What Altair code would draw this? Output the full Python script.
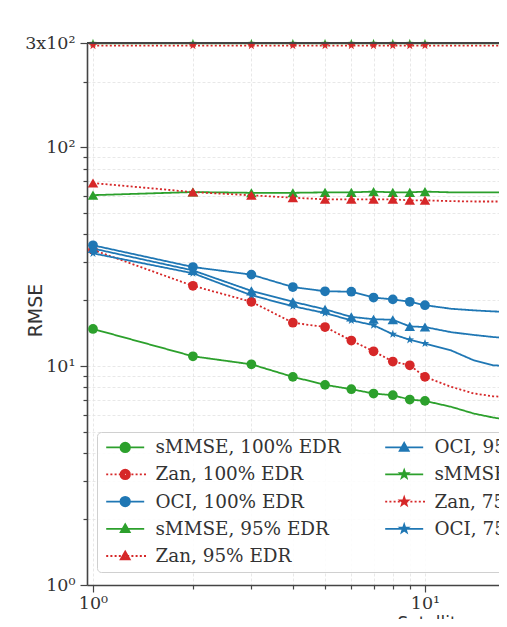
import math
import altair as alt
import pandas as pd

# ---------------- data ----------------
n_vals = [1, 2, 3, 4, 5, 6, 7, 8, 9, 10, 12, 14, 16, 18]

smmse_100 = [14.8, 11.1, 10.2, 8.94, 8.22, 7.85, 7.50, 7.37, 7.04, 6.94, 6.52, 6.08, 5.83, 5.67]
zan_100 = [34.0, 23.3, 19.7, 15.8, 15.1, 13.1, 11.7, 10.5, 10.1, 8.94, 8.05, 7.51, 7.29, 7.22]
oci_100 = [35.7, 28.4, 26.2, 23.0, 22.0, 21.9, 20.6, 20.2, 19.7, 19.0, 18.3, 18.0, 17.8, 17.7]
smmse_95 = [60.5, 62.5, 62.0, 62.0, 62.3, 62.3, 62.8, 62.3, 62.3, 62.8, 62.3, 62.3, 62.3, 62.3]
zan_95 = [68.7, 62.5, 60.4, 58.9, 57.9, 57.9, 57.9, 57.9, 57.3, 57.3, 56.8, 56.6, 56.6, 56.6]
oci_95 = [34.5, 27.4, 22.1, 19.7, 18.2, 16.8, 16.4, 16.3, 15.2, 15.1, 14.3, 13.9, 13.6, 13.4]
smmse_75 = [299, 299, 299, 299, 299, 299, 299, 299, 299, 299, 299, 299, 299, 299]
zan_75 = [292, 292, 292, 292, 292, 292, 292, 292, 292, 292, 292, 292, 292, 292]
oci_75 = [32.8, 26.6, 21.1, 18.8, 17.5, 16.2, 15.4, 14.0, 13.2, 12.7, 11.8, 10.65, 10.1, 10.0]

series_labels = [
    "sMMSE, 100% EDR", "Zan, 100% EDR", "OCI, 100% EDR",
    "sMMSE, 95% EDR", "Zan, 95% EDR", "OCI, 95% EDR",
    "sMMSE, 75% EDR", "Zan, 75% EDR", "OCI, 75% EDR",
]
series_values = [smmse_100, zan_100, oci_100, smmse_95, zan_95, oci_95, smmse_75, zan_75, oci_75]
series_method = ["sMMSE", "Zan", "OCI"] * 3
series_edr = ["100", "100", "100", "95", "95", "95", "75", "75", "75"]

y_domain = [1, 300]
x_domain = [0.9593, 16.71]
y_tick_values = [1, 2, 3, 4, 5, 6, 7, 8, 9, 10, 20, 30, 40, 50, 60, 70, 80, 90, 100, 200, 300]
x_tick_values = [1, 2, 3, 4, 5, 6, 7, 8, 9, 10]

# ---------------- styling ----------------
method_color = {"sMMSE": "#2ca02c", "Zan": "#d62728", "OCI": "#1f77b4"}
method_dash = {"sMMSE": [1, 0], "Zan": [2, 2.2], "OCI": [1, 0]}


def f(v):
    return f"{v:.3f}"


def circle_path(r):
    return f"M{f(r)},0A{f(r)},{f(r)} 0 1,1 {f(-r)},0A{f(r)},{f(r)} 0 1,1 {f(r)},0Z"


def poly_path(pts, s=1.0, cx=0.0, cy=0.0):
    p = [(cx + (x - cx) * s, cy + (y - cy) * s) for x, y in pts]
    return "M" + "L".join(f"{f(x)},{f(y)}" for x, y in p) + "Z"


def star_pts(R, r):
    pts = []
    for k in range(10):
        ang = math.radians(-90 + 36 * k)
        rad = R if k % 2 == 0 else r
        pts.append((rad * math.cos(ang), rad * math.sin(ang)))
    return pts


# legend symbols: a line with a (stroke-filled) marker on it, unit = sqrt(symbolSize)/2 px
SOLID_LINE = "M-3.8,0L3.8,0"
DOT_LINE = "".join(f"M{f(-3.8 + 0.84 * k)},0L{f(-3.8 + 0.84 * k + 0.4)},0" for k in range(10))
tri = [(0, -0.9), (0.9, 0.68), (-0.9, 0.68)]
leg_marker = {
    "100": circle_path(0.95) + circle_path(0.62) + circle_path(0.29) + circle_path(0.06),
    "95": poly_path(tri) + poly_path(tri, 0.4, 0, 0.157) + circle_path(0.05),
    "75": poly_path(star_pts(0.85, 0.34)) + poly_path(star_pts(0.85, 0.34), 0.4) + circle_path(0.05),
}
STAR = poly_path(star_pts(1.0, 0.4))
edr_marker = {"100": ("circle", 95), "95": ("triangle-up", 110), "75": (STAR, 80)}

# legend entries fill column by column, as in the reference
legend_order = list(series_labels)
color_range = [method_color[m] for m in series_method]
shape_range = [(DOT_LINE if m == "Zan" else SOLID_LINE) + leg_marker[e]
               for m, e in zip(series_method, series_edr)]

rows = []
for lab, vals, m, e in zip(series_labels, series_values, series_method, series_edr):
    for n, v in zip(n_vals, vals):
        rows.append({"n": n, "rmse": v, "series": lab, "method": m, "edr": e})
df = pd.DataFrame(rows)

x_scale = alt.Scale(type="log", domain=x_domain, nice=False)
y_scale = alt.Scale(type="log", domain=y_domain, nice=False)

SERIF = "DejaVu Serif"
SANS = "DejaVu Sans"
TXT = "#333333"
AX = "#444444"

x_axis = alt.Axis(
    values=x_tick_values,
    labelExpr="datum.value == 1 ? '10⁰' : (datum.value == 10 ? '10¹' : '')",
    tickSize={"condition": {"test": "datum.value == 1 || datum.value == 10", "value": 7}, "value": 4},
    labelFont=SERIF, labelFontSize=17.5, labelColor=TXT, labelPadding=2,
    title="Satellite number", titleFont=SANS, titleFontSize=17, titleFontWeight="normal",
    titleColor=TXT, titleAlign="left", titleBaseline="top", titleX=310, titleY=30,
    grid=True, domainColor=AX, domainWidth=1.6, tickColor=AX, tickWidth=1.2,
    labelFlush=False, labelOverlap=False,
)
y_axis = alt.Axis(
    values=y_tick_values,
    labelExpr=("datum.value == 1 ? '10⁰' : (datum.value == 10 ? '10¹' : "
               "(datum.value == 100 ? '10²' : (datum.value == 300 ? '3x10²' : '')))"),
    tickSize={"condition": {"test": "datum.value == 1 || datum.value == 10 || datum.value == 100 || datum.value == 300",
                            "value": 7}, "value": 4},
    labelFont=SERIF, labelFontSize=17.5, labelColor=TXT, labelPadding=5,
    title="RMSE", titleFont=SANS, titleFontSize=19, titleFontWeight="normal", titleColor=TXT,
    titleX=-52, titleY=267, titleAlign="center", titleBaseline="middle",
    grid=True, domainColor=AX, domainWidth=1.6, tickColor=AX, tickWidth=1.2,
    labelFlush=False, labelOverlap=False,
)

X = alt.X("n:Q", scale=x_scale, axis=x_axis)
Y = alt.Y("rmse:Q", scale=y_scale, axis=y_axis)

base = alt.Chart(df)
layers = []
for lab, m, e in zip(series_labels, series_method, series_edr):
    sub = base.transform_filter(alt.datum.series == lab)
    layers.append(
        sub.mark_line(clip=True, strokeWidth=1.8, color=method_color[m],
                      strokeDash=method_dash[m]).encode(x=X, y=Y)
    )
    shp, size = edr_marker[e]
    layers.append(
        sub.transform_filter(alt.datum.n <= 10).mark_point(
            shape=shp, size=size, filled=True, opacity=1, color=method_color[m]
        ).encode(x=X, y=Y)
    )

legend_layer = base.mark_point(filled=False, opacity=0).encode(
    x=X, y=Y,
    stroke=alt.Stroke("series:N", scale=alt.Scale(domain=legend_order, range=color_range),
                      legend=alt.Legend(
                          title=None, orient="none", legendX=10, legendY=389, columns=2,
                          symbolSize=100, symbolStrokeWidth=1.8, symbolOpacity=1,
                          symbolOffset=13, labelOffset=21, labelLimit=400,
                          labelFont=SERIF, labelFontSize=18.4, labelColor=TXT,
                          rowPadding=8.2, columnPadding=40, padding=6,
                          strokeColor="#d0d0d0", fillColor="rgba(255,255,255,0.85)",
                          cornerRadius=4,
                      )),
    shape=alt.Shape("series:N", scale=alt.Scale(domain=legend_order, range=shape_range),
                    legend=alt.Legend(title=None)),
)
layers.append(legend_layer)

# top frame line of the plot box (at the upper end of the y domain)
top_frame = base.mark_rule(color=AX, strokeWidth=1.6).encode(
    y=alt.YDatum(y_domain[1], scale=y_scale, axis=y_axis)
)
layers.append(top_frame)

chart = alt.layer(*layers).properties(
    width=412, height=542,
    autosize=alt.AutoSizeParams(type="none"),
    padding={"left": 79, "top": 35, "right": 0, "bottom": 34},
    background="white",
).configure_view(stroke="transparent").configure_axis(
    gridColor="#e2e2e2", gridDash=[3, 2], gridWidth=0.8
)

chart.save("out.html", embed_options={"renderer": "svg", "actions": False})
